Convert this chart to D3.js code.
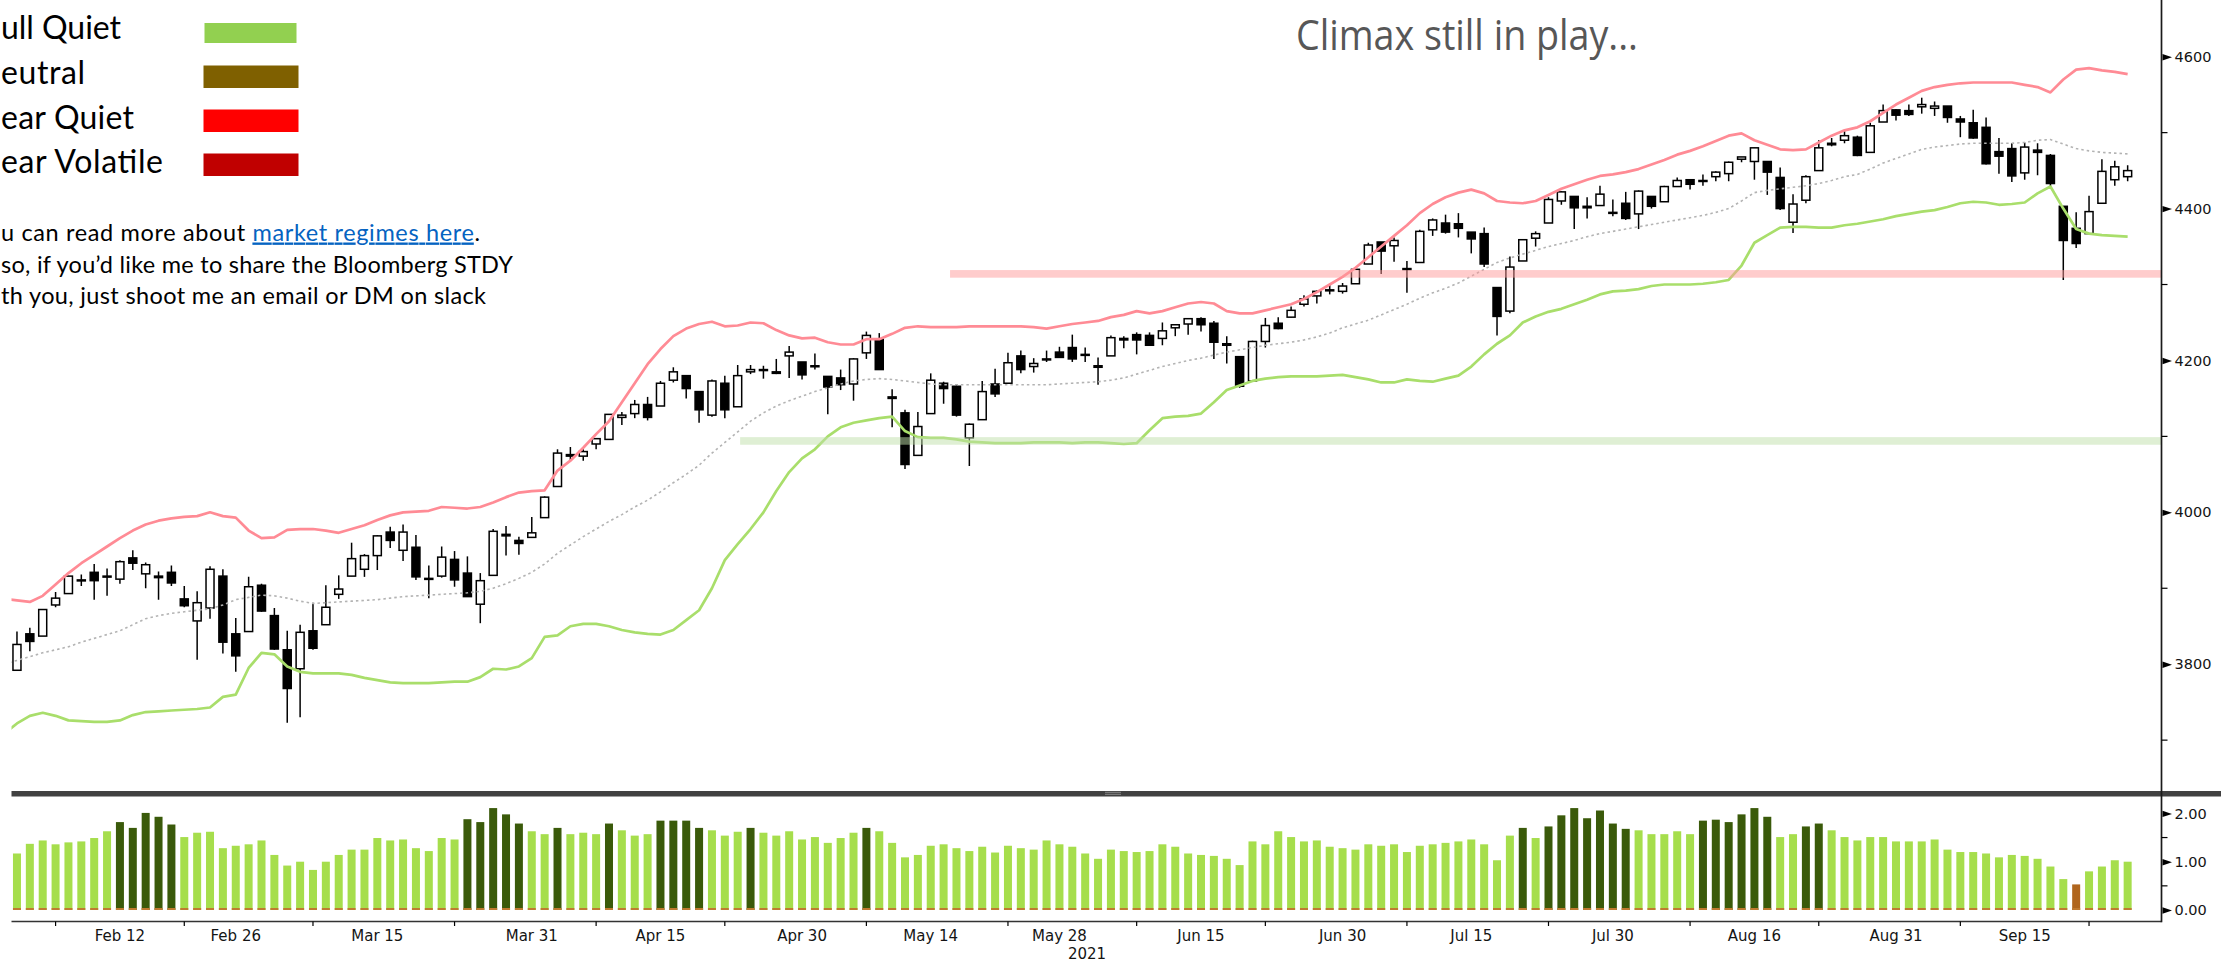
<!DOCTYPE html>
<html>
<head>
<meta charset="utf-8">
<script src="https://cdn.jsdelivr.net/npm/d3@7/dist/d3.min.js"></script>
<style>
  html, body { margin:0; padding:0; background:#ffffff; overflow:hidden; }
  svg { display:block; }
</style>
</head>
<body>
<svg id="chart" width="2239" height="964" xmlns="http://www.w3.org/2000/svg"></svg>
<script>
// ---------------- DATA ----------------
const dates = [
"2021-02-01","2021-02-02","2021-02-03","2021-02-04","2021-02-05","2021-02-08","2021-02-09","2021-02-10","2021-02-11","2021-02-12",
"2021-02-16","2021-02-17","2021-02-18","2021-02-19","2021-02-22","2021-02-23","2021-02-24","2021-02-25","2021-02-26",
"2021-03-01","2021-03-02","2021-03-03","2021-03-04","2021-03-05","2021-03-08","2021-03-09","2021-03-10","2021-03-11","2021-03-12",
"2021-03-15","2021-03-16","2021-03-17","2021-03-18","2021-03-19","2021-03-22","2021-03-23","2021-03-24","2021-03-25","2021-03-26",
"2021-03-29","2021-03-30","2021-03-31",
"2021-04-01","2021-04-05","2021-04-06","2021-04-07","2021-04-08","2021-04-09","2021-04-12","2021-04-13","2021-04-14","2021-04-15",
"2021-04-16","2021-04-19","2021-04-20","2021-04-21","2021-04-22","2021-04-23","2021-04-26","2021-04-27","2021-04-28","2021-04-29","2021-04-30",
"2021-05-03","2021-05-04","2021-05-05","2021-05-06","2021-05-07","2021-05-10","2021-05-11","2021-05-12","2021-05-13","2021-05-14",
"2021-05-17","2021-05-18","2021-05-19","2021-05-20","2021-05-21","2021-05-24","2021-05-25","2021-05-26","2021-05-27","2021-05-28",
"2021-06-01","2021-06-02","2021-06-03","2021-06-04","2021-06-07","2021-06-08","2021-06-09","2021-06-10","2021-06-11","2021-06-14",
"2021-06-15","2021-06-16","2021-06-17","2021-06-18","2021-06-21","2021-06-22","2021-06-23","2021-06-24","2021-06-25","2021-06-28",
"2021-06-29","2021-06-30",
"2021-07-01","2021-07-02","2021-07-06","2021-07-07","2021-07-08","2021-07-09","2021-07-12","2021-07-13","2021-07-14","2021-07-15",
"2021-07-16","2021-07-19","2021-07-20","2021-07-21","2021-07-22","2021-07-23","2021-07-26","2021-07-27","2021-07-28","2021-07-29","2021-07-30",
"2021-08-02","2021-08-03","2021-08-04","2021-08-05","2021-08-06","2021-08-09","2021-08-10","2021-08-11","2021-08-12","2021-08-13",
"2021-08-16","2021-08-17","2021-08-18","2021-08-19","2021-08-20","2021-08-23","2021-08-24","2021-08-25","2021-08-26","2021-08-27",
"2021-08-30","2021-08-31",
"2021-09-01","2021-09-02","2021-09-03","2021-09-07","2021-09-08","2021-09-09","2021-09-10","2021-09-13","2021-09-14","2021-09-15",
"2021-09-16","2021-09-17","2021-09-20","2021-09-21","2021-09-22","2021-09-23","2021-09-24","2021-09-27"
];

const opens = [
3731,3792,3840,3837,3878,3893,3910,3921,3916,3912, 3940,3919,3916,3921,3886,3857,3874,3916,3840,
3843,3904,3864,3819,3794,3844,3852,3892,3916,3925, 3943,3974,3950,3954,3913,3916,3938,3920,3879,3917, 3969,3963,3967,
3993,4034,4076,4074,4090,4096,4125,4130,4142,4140, 4174,4180,4159,4128,4170,4139,4185,4188,4185,4206,4198,
4192,4179,4177,4169,4210,4228,4150,4131,4075,4130, 4170,4166,4098,4122,4169,4170,4206,4192,4202,4211,
4217,4207,4191,4206,4229,4234,4233,4229,4243,4248, 4255,4249,4220,4205,4173,4225,4249,4257,4274,4285, 4293,4291,
4301,4327,4356,4351,4321,4329,4372,4381,4380,4369, 4367,4296,4265,4331,4361,4381,4410,4416,4403,4404,4395,
4407,4393,4416,4409,4429,4438,4436,4442,4446,4465, 4462,4462,4441,4382,4411,4450,4484,4490,4494,4474, 4514,4530,
4529,4534,4532,4535,4518,4513,4507,4475,4479,4447, 4477,4470,4403,4374,4367,4407,4438,4442
];
const highs = [
3784,3843,3848,3872,3895,3916,3918,3932,3926,3937, 3950,3934,3922,3930,3903,3896,3929,3925,3861,
3915,3906,3874,3844,3852,3881,3904,3917,3960,3945, 3970,3981,3984,3970,3930,3955,3949,3942,3920,3978, 3982,3968,3994,
4021,4083,4086,4083,4098,4129,4132,4148,4152,4173, 4191,4181,4159,4175,4180,4194,4194,4193,4202,4219,4198,
4209,4179,4188,4203,4238,4236,4162,4135,4132,4183, 4172,4169,4117,4173,4189,4210,4213,4203,4213,4218,
4234,4217,4204,4233,4232,4237,4237,4250,4248,4256, 4257,4252,4232,4205,4226,4256,4257,4271,4286,4292, 4301,4302,
4321,4355,4356,4362,4331,4372,4387,4392,4394,4369, 4375,4296,4337,4360,4370,4415,4423,4416,4415,4430,4412,
4422,4424,4416,4430,4441,4439,4445,4449,4462,4468, 4480,4462,4454,4419,4444,4490,4493,4502,4496,4513, 4537,4531,
4537,4546,4541,4535,4522,4530,4520,4493,4486,4487, 4486,4472,4403,4395,4417,4465,4463,4457
];
const lows = [
3726,3792,3817,3837,3875,3893,3903,3885,3890,3906, 3924,3900,3885,3903,3875,3806,3860,3814,3790,
3843,3869,3819,3723,3730,3819,3852,3886,3916,3915, 3924,3953,3936,3911,3887,3914,3902,3889,3854,3917, 3943,3944,3967,
3993,4034,4068,4068,4083,4096,4115,4124,4121,4140, 4171,4150,4118,4126,4124,4139,4182,4176,4182,4177,4175,
4188,4129,4161,4147,4202,4188,4112,4057,4075,4130, 4143,4126,4061,4122,4152,4170,4183,4184,4198,4204,
4198,4198,4168,4206,4216,4208,4219,4220,4232,4234, 4238,4202,4196,4164,4173,4217,4241,4257,4271,4275, 4287,4288,
4301,4327,4314,4330,4289,4329,4364,4367,4362,4341, 4323,4233,4262,4331,4350,4381,4405,4373,4387,4404,4390,
4385,4373,4400,4409,4429,4425,4430,4436,4436,4461, 4438,4418,4398,4368,4407,4450,4482,4486,4469,4474, 4514,4516,
4522,4525,4522,4513,4494,4492,4458,4446,4435,4438, 4444,4428,4306,4348,4367,4407,4430,4436
];
const closes = [
3774,3826,3830,3872,3887,3916,3911,3910,3916,3935, 3933,3931,3914,3907,3877,3881,3925,3829,3811,
3902,3870,3820,3768,3842,3821,3875,3899,3939,3943, 3969,3963,3974,3915,3913,3941,3911,3889,3910,3975, 3971,3959,3973,
4020,4078,4074,4080,4097,4129,4128,4142,4125,4170, 4185,4163,4135,4173,4135,4180,4188,4187,4183,4211,4181,
4193,4165,4168,4202,4233,4188,4152,4063,4113,4174, 4163,4128,4116,4159,4156,4197,4188,4196,4201,4204,
4202,4208,4193,4230,4227,4227,4220,4239,4247,4255, 4247,4224,4222,4166,4225,4246,4242,4266,4281,4291, 4292,4298,
4320,4352,4344,4358,4321,4370,4385,4369,4374,4360, 4327,4258,4323,4359,4367,4412,4422,4401,4401,4419,4395,
4387,4423,4403,4429,4437,4432,4437,4448,4461,4468, 4480,4448,4400,4406,4442,4480,4486,4496,4470,4509, 4529,4523,
4524,4537,4535,4520,4514,4493,4459,4469,4443,4481, 4474,4433,4358,4354,4396,4449,4455,4450
];

const upperBand = [
3886,3884,3882,3890,3905,3920,3933,3944,3955,3966, 3976,3984,3989,3992,3994,3995,4000,3995,3993,3976,
3966,3967,3977,3978,3978,3976,3973,3978,3983,3990, 3996,4000,4001,4002,4007,4006,4005,4007,4013,4020,
4026,4028,4029,4055,4068,4085,4103,4120,4145,4170, 4195,4215,4232,4242,4248,4251,4245,4246,4250,4249,
4240,4233,4229,4230,4224,4221,4221,4228,4228,4235, 4243,4245,4244,4244,4244,4245,4245,4245,4245,4245,
4244,4242,4245,4248,4250,4252,4257,4260,4265,4262, 4265,4270,4275,4277,4275,4265,4262,4262,4266,4270,
4274,4281,4290,4300,4310,4322,4336,4350,4364,4378, 4394,4406,4415,4421,4425,4420,4410,4408,4407,4410,
4418,4426,4432,4438,4443,4445,4448,4452,4458,4464, 4471,4476,4482,4489,4496,4499,4490,4484,4478,4477,
4478,4487,4496,4503,4507,4515,4526,4537,4546,4555, 4560,4563,4565,4566,4566,4566,4566,4563,4560,4553,
4570,4583,4585,4582,4580,4577
];
const middleBand = [
3800,3805,3810,3815,3819,3823,3829,3834,3839,3844, 3852,3860,3864,3867,3869,3871,3873,3878,3885,3888,
3891,3890,3887,3883,3880,3881,3882,3883,3884,3885, 3887,3889,3890,3891,3892,3893,3894,3896,3900,3906,
3913,3921,3932,3946,3957,3968,3978,3988,3997,4007, 4016,4027,4039,4050,4062,4078,4092,4106,4120,4131,
4140,4147,4153,4159,4164,4169,4173,4175,4176,4175, 4173,4171,4169,4168,4168,4168,4168,4168,4168,4168,
4168,4168,4169,4170,4171,4172,4174,4177,4182,4187, 4192,4196,4200,4203,4207,4211,4214,4217,4220,4222,
4224,4227,4231,4236,4243,4248,4253,4260,4267,4274, 4282,4289,4295,4302,4311,4320,4329,4335,4340,4345,
4350,4354,4358,4363,4367,4370,4373,4376,4379,4382, 4385,4388,4391,4395,4400,4410,4421,4424,4426,4428,
4430,4433,4437,4442,4445,4452,4460,4466,4472,4478, 4481,4483,4485,4486,4486,4486,4486,4487,4490,4491,
4485,4479,4476,4474,4473,4472
];
const lowerBand = [
3708,3722,3732,3736,3732,3726,3725,3724,3724,3726, 3733,3737,3738,3739,3740,3741,3743,3757,3760,3795,
3815,3813,3797,3790,3788,3788,3788,3786,3782,3779, 3776,3775,3775,3775,3776,3777,3777,3783,3794,3793,
3797,3808,3836,3838,3850,3853,3853,3850,3845,3842, 3840,3839,3845,3858,3871,3900,3937,3958,3978,4000,
4028,4053,4071,4083,4100,4112,4118,4121,4124,4126, 4107,4099,4098,4098,4096,4093,4092,4091,4091,4091,
4092,4092,4092,4091,4092,4092,4091,4090,4091,4108, 4124,4126,4127,4130,4145,4161,4167,4173,4176,4178,
4179,4179,4179,4180,4181,4178,4175,4171,4171,4175, 4173,4172,4176,4180,4192,4208,4222,4233,4250,4258,
4264,4268,4274,4280,4287,4291,4292,4294,4298,4300, 4300,4300,4301,4303,4306,4325,4355,4365,4375,4376,
4376,4375,4375,4378,4380,4383,4386,4390,4393,4396, 4398,4402,4407,4409,4408,4405,4406,4408,4420,4429,
4400,4373,4367,4365,4364,4363
];

const regimeValues = [
1.15,1.17,1.37,1.44,1.36,1.40,1.42,1.49,1.63,1.82, 1.70,2.01,1.93,1.77,1.51,1.60,1.62,1.28,1.33,
1.36,1.44,1.14,0.92,1.00,0.83,1.00,1.14,1.25,1.25, 1.49,1.44,1.46,1.28,1.22,1.49,1.46,1.88,1.82,2.11, 1.98,1.79,1.63,
1.57,1.70,1.57,1.60,1.57,1.79,1.65,1.54,1.57,1.85, 1.85,1.85,1.70,1.65,1.54,1.62,1.70,1.60,1.54,1.63,1.46,
1.51,1.39,1.49,1.60,1.70,1.63,1.39,1.09,1.14,1.33, 1.36,1.28,1.22,1.31,1.19,1.33,1.28,1.25,1.44,1.36,
1.31,1.17,1.06,1.25,1.22,1.20,1.22,1.36,1.31,1.17, 1.14,1.12,1.06,0.93,1.42,1.36,1.63,1.51,1.42,1.44, 1.31,1.28,
1.25,1.36,1.33,1.36,1.20,1.33,1.36,1.39,1.42,1.46, 1.36,1.03,1.54,1.70,1.49,1.73,1.96,2.11,1.90,2.06,1.79,
1.68,1.65,1.57,1.57,1.63,1.57,1.85,1.87,1.82,1.98, 2.11,1.93,1.51,1.57,1.73,1.79,1.65,1.51,1.44,1.51, 1.51,1.42,
1.42,1.42,1.46,1.25,1.20,1.20,1.17,1.09,1.14,1.12, 1.06,0.90,0.64,0.53,0.80,0.90,1.03,1.00
];
// L = Bull Quiet, D = Bull Volatile, N = Neutral  (one code per date, grouped by month)
const regimeCodes = (
  "LLLLLLLLLDDDDDLLLLL" +
  "LLLLLLLLLLLLLLLLLDDDDDL" +
  "LDLLLDLLLDDDDLLLDLLLL" +
  "LLLLDLLLLLLLLLLLLLLL" +
  "LLLLLLLLLLLLLLLLLLLLLL" +
  "LLLLLLLLLLLLLDLDDDDDD" +
  "DLLLLLDDDDDDLLDDLLLLLL" +
  "LLLLLLLLLLLLLNLLLL").split("");

const priceTicks = [3800, 4000, 4200, 4400, 4600];
const priceMinorTicks = [3700, 3900, 4100, 4300, 4500];
const regimeTicks = [0, 1, 2];
const regimeMinorTicks = [0.5, 1.5];

const labelDates = ["2021-02-12","2021-02-26","2021-03-15","2021-03-31","2021-04-15","2021-04-30","2021-05-14","2021-05-28",
  "2021-06-15","2021-06-30","2021-07-15","2021-07-30","2021-08-16","2021-08-31","2021-09-15"];
const labelTexts = ["Feb 12","Feb 26","Mar 15","Mar 31","Apr 15","Apr 30","May 14","May 28",
  "Jun 15","Jun 30","Jul 15","Jul 30","Aug 16","Aug 31","Sep 15"];
const tickDates = ["2021-02-05","2021-02-22","2021-03-08","2021-03-23","2021-04-08","2021-04-22","2021-05-07","2021-05-24",
  "2021-06-08","2021-06-22","2021-07-08","2021-07-23","2021-08-09","2021-08-23","2021-09-08","2021-09-22"];
const yearLabel = "2021";

// legend / note texts exactly as visible in the (cropped) reference
const legendLabels = ["ull Quiet", "eutral", "ear Quiet", "ear Volatile"];
const legendColors = ["#92d050", "#7f6000", "#ff0000", "#c00000"];

const levelValues = [4314, 4094];
const levelStartDates = ["2021-05-18", "2021-04-26"];
const levelColors = ["#ff9a9a", "#c0dfaa"];

const noteLines = ["u can read more about ", "so, if you\u2019d like me to share the Bloomberg STDY", "th you, just shoot me an email or DM on slack"];
const noteLink = "market regimes here";
const annotation = "Climax still in play...";

// ---------------- LAYOUT ----------------
const svg = d3.select("#chart");
const axisX = 2161.5;
const plotLeft = 11.5;
const mainTop = 0, mainBottom = 790.5;
const lowTop = 797, lowBottom = 921.5;

const step = 12.87, xFirst = 4.1;
const x = d3.scaleBand().domain(dates)
  .range([xFirst - step / 2, xFirst + step * (dates.length - 1) + step / 2]);
const cx = d => x(d) + x.bandwidth() / 2;
const y = d3.scaleLinear().domain([3800, 4600]).range([664.2, 56.7]);
const yR = d3.scaleLinear().domain([0, 2]).range([910, 813.4]);

const defs = svg.append("defs");
defs.append("clipPath").attr("id", "clipMain").append("rect")
  .attr("x", plotLeft).attr("y", mainTop).attr("width", axisX - plotLeft).attr("height", mainBottom - mainTop);
defs.append("clipPath").attr("id", "clipLow").append("rect")
  .attr("x", plotLeft).attr("y", lowTop).attr("width", axisX - plotLeft).attr("height", lowBottom - lowTop);

// ---------------- MAIN PANEL ----------------
const candles = dates.map((d, i) => ({ d, o: opens[i], h: highs[i], l: lows[i], c: closes[i] }));
const gMain = svg.append("g").attr("clip-path", "url(#clipMain)");

gMain.append("g").selectAll("line").data(candles).join("line")
  .attr("x1", d => cx(d.d)).attr("x2", d => cx(d.d))
  .attr("y1", d => y(d.h)).attr("y2", d => y(d.l))
  .attr("stroke", "#000").attr("stroke-width", 1.5);

const bodyW = 8;
gMain.append("g").selectAll("rect").data(candles).join("rect")
  .attr("x", d => cx(d.d) - bodyW / 2).attr("width", bodyW)
  .attr("y", d => y(Math.max(d.o, d.c)))
  .attr("height", d => Math.max(1, Math.abs(y(d.o) - y(d.c))))
  .attr("fill", d => d.c >= d.o ? "#ffffff" : "#000000")
  .attr("stroke", "#000").attr("stroke-width", 1.5);

const lineGen = d3.line().x((v, i) => cx(dates[i])).y(v => y(v));
gMain.append("path").attr("d", lineGen(middleBand)).attr("fill", "none")
  .attr("stroke", "#b3b3b3").attr("stroke-width", 1.6).attr("stroke-dasharray", "2.5,3");
gMain.append("path").attr("d", lineGen(upperBand)).attr("fill", "none")
  .attr("stroke", "#ff8b95").attr("stroke-width", 2.7).attr("stroke-linejoin", "round");
gMain.append("path").attr("d", lineGen(lowerBand)).attr("fill", "none")
  .attr("stroke", "#a9de6b").attr("stroke-width", 2.7).attr("stroke-linejoin", "round");

// highlighted levels
svg.append("g").selectAll("rect").data(levelValues).join("rect")
  .attr("x", (v, i) => x(levelStartDates[i]) - (i === 1 ? 4 : 0))
  .attr("width", (v, i) => axisX - x(levelStartDates[i]) + (i === 1 ? 4 : 0))
  .attr("y", v => y(v) - 3.8).attr("height", 7.6)
  .attr("fill", (v, i) => levelColors[i]).attr("opacity", 0.5);

// ---------------- PANEL SEPARATOR ----------------
svg.append("rect").attr("x", plotLeft).attr("y", 791).attr("width", 2221 - plotLeft).attr("height", 5.5).attr("fill", "#414141");
[792.3, 794.3].forEach(yy => svg.append("line").attr("x1", 1105).attr("x2", 1121).attr("y1", yy).attr("y2", yy)
  .attr("stroke", "#9a9a9a").attr("stroke-width", 0.8));

// ---------------- LOWER PANEL ----------------
const regimeColor = { L: "#a6de4c", D: "#3a5a0a", N: "#b0661e" };
const gLow = svg.append("g").attr("clip-path", "url(#clipLow)");
const barW = 8;
gLow.append("g").selectAll("rect").data(dates).join("rect")
  .attr("x", d => cx(d) - barW / 2).attr("width", barW)
  .attr("y", (d, i) => yR(regimeValues[i]))
  .attr("height", (d, i) => yR(0) - yR(regimeValues[i]))
  .attr("fill", (d, i) => regimeColor[regimeCodes[i]]);
gLow.append("g").selectAll("rect").data(dates).join("rect")
  .attr("x", d => cx(d) - barW / 2).attr("width", barW)
  .attr("y", yR(0) - 2).attr("height", 2).attr("fill", "#c07a30");

svg.append("line").attr("x1", plotLeft).attr("x2", axisX).attr("y1", lowBottom).attr("y2", lowBottom)
  .attr("stroke", "#333").attr("stroke-width", 1.5);

// ---------------- AXES ----------------
svg.append("line").attr("x1", axisX).attr("x2", axisX).attr("y1", 0).attr("y2", lowBottom + 0.7)
  .attr("stroke", "#1a1a1a").attr("stroke-width", 1.7);

function rightAxis(scale, ticks, minor, fmt) {
  const g = svg.append("g").attr("transform", `translate(${axisX},0)`)
    .call(d3.axisRight(scale).tickValues(ticks).tickSize(0).tickPadding(13).tickFormat(fmt));
  g.select(".domain").remove();
  g.selectAll("text").attr("font-family", "DejaVu Sans, Verdana, sans-serif").attr("font-size", 14.5).attr("fill", "#141414");
  g.selectAll(".tick").append("path").attr("d", "M1,-3.2L10.5,0L1,3.2Z").attr("fill", "#000");
  svg.append("g").selectAll("line").data(minor).join("line")
    .attr("x1", axisX).attr("x2", axisX + 6).attr("y1", v => scale(v)).attr("y2", v => scale(v))
    .attr("stroke", "#000").attr("stroke-width", 1.2);
}
rightAxis(y, priceTicks, priceMinorTicks, d3.format("d"));
rightAxis(yR, regimeTicks, regimeMinorTicks, d3.format(".2f"));

const gx = svg.append("g").attr("transform", `translate(0,${lowBottom})`)
  .call(d3.axisBottom(x).tickValues(labelDates).tickSize(0).tickPadding(9).tickFormat((d, i) => labelTexts[i]));
gx.select(".domain").remove();
gx.selectAll("text").attr("font-family", "DejaVu Sans, Verdana, sans-serif").attr("font-size", 15).attr("fill", "#141414");
svg.append("g").selectAll("line").data(tickDates).join("line")
  .attr("x1", d => cx(d)).attr("x2", d => cx(d)).attr("y1", lowBottom).attr("y2", lowBottom + 4.5)
  .attr("stroke", "#000").attr("stroke-width", 1.2);
svg.append("text").attr("x", (plotLeft + axisX) / 2 + 0.5).attr("y", 958.5).attr("text-anchor", "middle")
  .attr("font-family", "DejaVu Sans, Verdana, sans-serif").attr("font-size", 15).attr("fill", "#141414").text(yearLabel);

// ---------------- LEGEND & NOTES ----------------
const legendWidths = [120, 84, 133, 162];
const legendBase = [39, 83.5, 128.5, 173];
svg.append("g").selectAll("text").data(legendLabels).join("text")
  .attr("x", 1).attr("y", (d, i) => legendBase[i])
  .attr("textLength", (d, i) => legendWidths[i])
  .attr("font-family", "Lato, 'Open Sans', sans-serif").attr("font-size", 32).attr("fill", "#000").text(d => d);
const swTop = [23, 65.5, 109.5, 153.5];
svg.append("g").selectAll("rect").data(legendColors).join("rect")
  .attr("x", (d, i) => i === 0 ? 204.5 : 203.5).attr("width", (d, i) => i === 0 ? 92 : 95)
  .attr("y", (d, i) => swTop[i]).attr("height", (d, i) => i === 0 ? 20 : 22.5)
  .attr("fill", d => d);

const noteFont = "Lato, 'Open Sans', sans-serif";
const t1 = svg.append("text").attr("x", 1).attr("y", 240.5).attr("textLength", 479)
  .attr("font-family", noteFont).attr("font-size", 23.5).attr("fill", "#000");
t1.append("tspan").text(noteLines[0]);
t1.append("tspan").attr("fill", "#0563c1").attr("text-decoration", "underline").text(noteLink);
t1.append("tspan").text(".");
svg.append("text").attr("x", 1).attr("y", 272.5).attr("textLength", 512)
  .attr("font-family", noteFont).attr("font-size", 23.5).attr("fill", "#000").text(noteLines[1]);
svg.append("text").attr("x", 1).attr("y", 304).attr("textLength", 485)
  .attr("font-family", noteFont).attr("font-size", 23.5).attr("fill", "#000").text(noteLines[2]);

svg.append("text").attr("x", 1296).attr("y", 50).attr("textLength", 342).attr("lengthAdjust", "spacingAndGlyphs")
  .attr("font-family", "'Open Sans', Lato, sans-serif").attr("font-size", 42).attr("fill", "#575757").text(annotation);
</script>
</body>
</html>
